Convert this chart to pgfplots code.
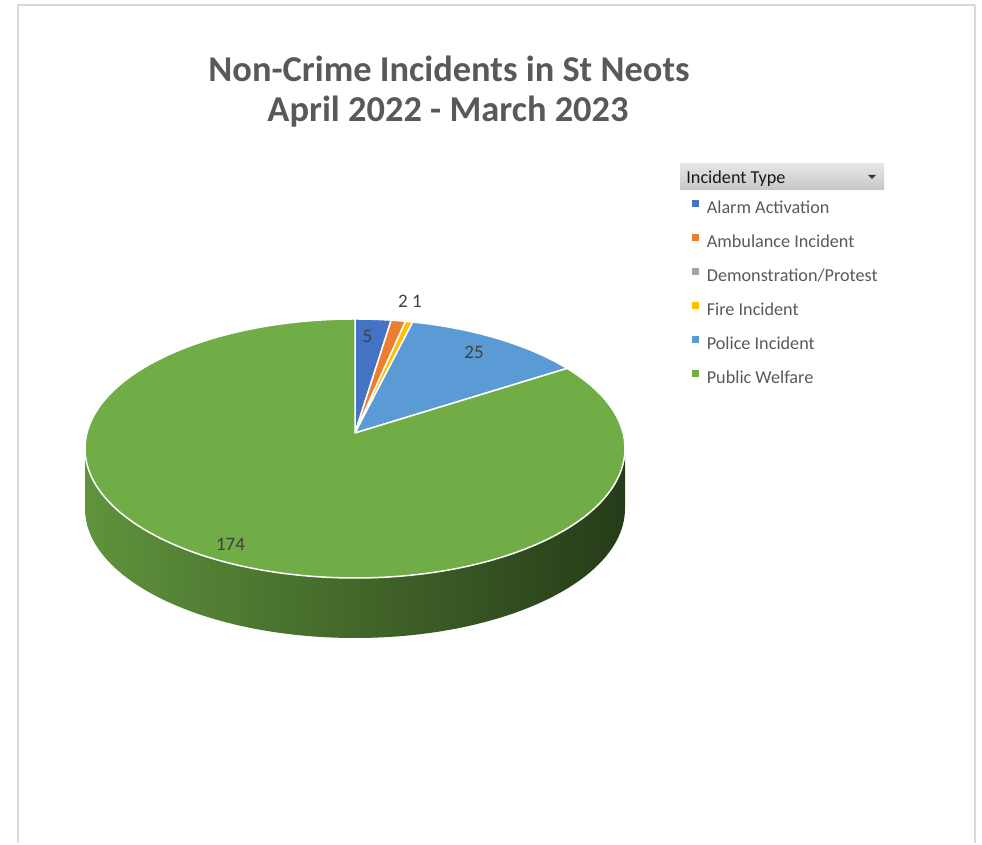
\documentclass[border=0pt]{standalone}
\usepackage{pgfplots}
\pgfplotsset{compat=1.18}
\usepackage{pgfplotstable}
\usepackage{fontspec}
\setmainfont{Carlito}
\definecolor{c0}{HTML}{4472C4}
\definecolor{c1}{HTML}{ED7D31}
\definecolor{c2}{HTML}{A5A5A5}
\definecolor{c3}{HTML}{FFC000}
\definecolor{c4}{HTML}{5B9BD5}
\definecolor{c5}{HTML}{70AD47}
\definecolor{titlegray}{HTML}{595959}
\definecolor{lgtext}{HTML}{595959}
\definecolor{lbl}{HTML}{404040}
\definecolor{bordergray}{HTML}{D9D9D9}
\newcommand\lgsq[1]{\addlegendimage{legend image code/.code={\fill[#1] (-1.4pt,1.05pt) rectangle (1.4pt,3.85pt);}}}
\begin{document}
\begin{tikzpicture}
\pgfplotstableread[col sep=comma]{
type,value
Alarm Activation,5
Ambulance Incident,2
Demonstration/Protest,0
Fire Incident,1
Police Incident,25
Public Welfare,174
}\piedata
% total
\gdef\total{0}
\foreach \i in {0,...,5}{%
  \pgfplotstablegetelem{\i}{value}\of\piedata
  \pgfmathsetmacro\tmp{\total+\pgfplotsretval}%
  \xdef\total{\tmp}}
% slice paths (perspective view of the disc: vertex at (355,410), rim ellipse centre (355,394.5))
\gdef\piecmds{}
\gdef\cum{0}
\foreach \i in {0,...,5}{%
  \pgfplotstablegetelem{\i}{value}\of\piedata
  \let\v\pgfplotsretval
  \pgfmathsetmacro\thA{\cum/\total*360}%
  \pgfmathsetmacro\newcum{\cum+\v}%
  \pgfmathsetmacro\thB{\newcum/\total*360}%
  \pgfmathsetmacro\dA{1+0.1197*cos(\thA)}%
  \pgfmathsetmacro\XA{268*sin(\thA)/\dA}%
  \pgfmathsetmacro\YA{127.6*cos(\thA)/\dA+15.5}%
  \pgfmathsetmacro\tA{atan2(\YA/129.5,\XA/270)}%
  \pgfmathsetmacro\dB{1+0.1197*cos(\thB)}%
  \pgfmathsetmacro\XB{268*sin(\thB)/\dB}%
  \pgfmathsetmacro\YB{127.6*cos(\thB)/\dB+15.5}%
  \pgfmathsetmacro\tB{atan2(\YB/129.5,\XB/270)}%
  \pgfmathparse{\tB>=\tA ? \tB-360 : \tB}\let\tB\pgfmathresult
  \pgfmathsetmacro\pxA{355+270*cos(\tA)}%
  \pgfmathsetmacro\pyA{394.5+129.5*sin(\tA)}%
  \ifdim\v pt>0pt
    \xdef\piecmds{\unexpanded\expandafter{\piecmds}\noexpand\fill[c\i,draw=white,line width=0.75pt,line join=round] (axis cs:355,410) -- (axis cs:\pxA,\pyA) arc[start angle=\tA,end angle=\tB,x radius=135pt,y radius=64.75pt] -- cycle;}%
  \fi
  \xdef\cum{\newcum}}
\begin{axis}[
  width=491pt, height=421.5pt, scale only axis,
  xmin=0, xmax=982, ymin=0, ymax=843,
  hide axis, clip=false,
  legend style={at={(0.7047,0.764)}, anchor=north west, draw=none, fill=none,
    font=\fontsize{9.1}{11}\selectfont, text=lgtext, row sep=8pt, column sep=4pt, inner sep=0pt,
    nodes={inner sep=0pt, text height=7pt, text depth=2pt}},
  legend cell align=left,
]
\path (axis cs:0,0) rectangle (axis cs:982,843);
% frame
\draw[bordergray, line width=0.6pt] (axis cs:18,0) -- (axis cs:18,838) -- (axis cs:975,838);
\draw[bordergray, line width=1.2pt] (axis cs:975,838) -- (axis cs:975,0);
% side of the disc
\shade[left color=c5!85!black, middle color=c5!58!black, right color=c5!34!black]
  (axis cs:625,394.5) arc[start angle=0,end angle=-180,x radius=135pt,y radius=64.75pt]
  -- ++(0,-30pt) arc[start angle=180,end angle=360,x radius=135pt,y radius=64.75pt] -- cycle;
\piecmds
% data labels
\node[anchor=base, text=lbl, font=\fontsize{9.5}{11}\selectfont] at (axis cs:367.5,500) {5};
\node[anchor=base, text=lbl, font=\fontsize{9.5}{11}\selectfont] at (axis cs:403,535) {2};
\node[anchor=base, text=lbl, font=\fontsize{9.5}{11}\selectfont] at (axis cs:417,535) {1};
\node[anchor=base, text=lbl, font=\fontsize{9.5}{11}\selectfont] at (axis cs:474,484) {25};
\node[anchor=base, text=lbl, font=\fontsize{9.5}{11}\selectfont] at (axis cs:230.5,292) {174};
% title
\node[anchor=base, text=titlegray, font=\fontsize{18.2}{22}\selectfont\bfseries] at (axis cs:449,761) {Non-Crime Incidents in St Neots};
\node[anchor=base, text=titlegray, font=\fontsize{18.2}{22}\selectfont\bfseries] at (axis cs:448,721) {April 2022 - March 2023};
% legend header
\fill[top color=black!10, bottom color=black!22] (axis cs:680,653) rectangle (axis cs:884,679);
\node[anchor=base west, text=black!90, font=\fontsize{9.1}{11}\selectfont, inner sep=0pt] at (axis cs:686,659) {Incident Type};
\fill[black!80] (axis cs:868,668) -- (axis cs:876,668) -- (axis cs:872,664) -- cycle;
\lgsq{c0}\lgsq{c1}\lgsq{c2}\lgsq{c3}\lgsq{c4}\lgsq{c5}
\legend{Alarm Activation,Ambulance Incident,Demonstration/Protest,Fire Incident,Police Incident,Public Welfare}
\end{axis}
\end{tikzpicture}
\end{document}
